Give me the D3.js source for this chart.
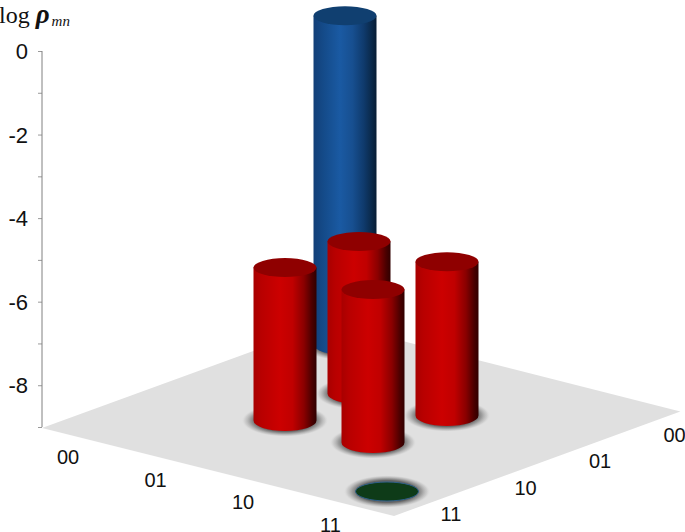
<!DOCTYPE html>
<html><head><meta charset="utf-8">
<script src="https://cdn.jsdelivr.net/npm/d3@7/dist/d3.min.js"></script>
<style>html,body{margin:0;padding:0;background:#fff}svg{display:block}</style>
</head><body><div id="c"></div>
<script>
const rowLabels = ["00","01","10","11"];
const colLabels = ["00","01","10","11"];
const rowIdx = ["00","01","00","01","10","10","11"].slice(0,0);
const barRows = ["00","01","01","10","10","11"];
const barCols = ["00","01","10","01","10","11"];
const barValues = [-1.13,-5.36,-5.34,-5.32,-5.34,-9];
const barKinds = ["blue","red","red","red","red","green"];
const yTicks = [0,-1,-2,-3,-4,-5,-6,-7,-8,-9];
const yLabelled = [0,-2,-4,-6,-8];

const W=685,H=532;
const svg=d3.select("#c").append("svg").attr("width",W).attr("height",H);
const defs=svg.append("defs");

// oblique floor projection built from two linear scales
const ax=d3.scaleLinear().domain([0,4]).range([0,352]);   // along left-to-bottom edge, x
const ay=d3.scaleLinear().domain([0,4]).range([0,88]);    // y
const bx=d3.scaleLinear().domain([0,4]).range([0,296]);   // along bottom-to-right edge, x
const by=d3.scaleLinear().domain([0,4]).range([0,-108]);  // y
const ox=42, oy=428;
const project=(a,b)=>[ox+ax(a)+bx(b),oy+ay(a)+by(b)];
const rowPos=d3.scaleBand().domain(rowLabels).range([0,4]);
const colPos=d3.scaleBand().domain(colLabels).range([4,0]);
const cell=(r,c)=>project(rowPos(r)+0.5,colPos(c)+0.5);
const y=d3.scaleLinear().domain([-9,0]).range([427,51]);
const unit=y(-9)-y(-8);

const RX=31.5,RY=10.5;

function lg(id,stops){
  const g=defs.append("linearGradient").attr("id",id).attr("x1",0).attr("x2",1).attr("y1",0).attr("y2",0);
  stops.forEach(s=>g.append("stop").attr("offset",s[0]).attr("stop-color",s[1]));
}
lg("gRed",[[0,"#a80000"],[0.12,"#b80000"],[0.42,"#cc0000"],[0.62,"#c00000"],[0.8,"#8a0000"],[0.93,"#4a0000"],[1,"#300000"]]);
lg("gBlue",[[0,"#123f78"],[0.15,"#144a88"],[0.42,"#1a5aa3"],[0.62,"#174f90"],[0.8,"#0f3a6c"],[0.93,"#0a2848"],[1,"#071c34"]]);
const sh=defs.append("radialGradient").attr("id","gShadow");
[[0,"#555",1],[0.68,"#666",1],[0.8,"#8c8c8c",0.8],[0.92,"#bbb",0.5],[1,"#e0e0e0",0]].forEach(s=>
  sh.append("stop").attr("offset",s[0]).attr("stop-color",s[1]).attr("stop-opacity",s[2]));

// floor
const floorCorners=[[0,0],[4,0],[4,3.87],[0,3.9]];
svg.append("polygon").attr("fill","#e0e0e0")
  .attr("points",floorCorners.map(p=>project(p[0],p[1]).join(",")).join(" "));

// y axis
const axisColor="#808080";
const axisG=svg.append("g");
axisG.append("line").attr("x1",42).attr("x2",42).attr("y1",y(0)).attr("y2",y(-9))
  .attr("stroke",axisColor).attr("stroke-width",1);
axisG.selectAll("line.t").data(yTicks).join("line").attr("class","t")
  .attr("x1",38).attr("x2",42).attr("y1",d=>y(d)+.5).attr("y2",d=>y(d)+.5)
  .attr("stroke",axisColor).attr("stroke-width",0.8);
axisG.selectAll("text").data(yLabelled).join("text")
  .attr("x",28).attr("y",d=>y(d)+8).attr("text-anchor","end")
  .attr("font-family","Liberation Sans").attr("font-size",22).attr("fill","#111")
  .text(d=>d);

// title
const title=svg.append("text").attr("x",-1).attr("y",23).attr("font-family","Liberation Serif").attr("fill","#111");
title.append("tspan").attr("font-size",24).text("log ");
title.append("tspan").attr("font-size",27).attr("font-style","italic").attr("font-weight","bold").text("ρ");
title.append("tspan").attr("font-size",15).attr("font-style","italic").attr("dx",2).attr("dy",3).text("mn");

// axis category labels
const lab=svg.append("g").attr("font-family","Liberation Sans").attr("font-size",20).attr("fill","#111").attr("text-anchor","middle");
const rowLabelPos=d3.scalePoint().domain(rowLabels).range([0,3]);
lab.selectAll("text.r").data(rowLabels).join("text").attr("class","r")
  .attr("x",d=>68+rowLabelPos(d)*87.5).attr("y",d=>464+rowLabelPos(d)*22.5).text(d=>d);
lab.selectAll("text.c").data(colLabels).join("text").attr("class","c")
  .attr("x",d=>451+(3-rowLabelPos(d))*74.5).attr("y",d=>521-(3-rowLabelPos(d))*26.5).text(d=>d);

// bars
const bars=barValues.map((v,i)=>({r:barRows[i],c:barCols[i],v,k:barKinds[i],p:cell(barRows[i],barCols[i])}));
const order=bars.slice().sort((p,q)=>p.p[1]-q.p[1]);
const gSh=svg.append("g"),gBar=svg.append("g");
gSh.selectAll("ellipse").data(bars).join("ellipse")
  .attr("cx",d=>d.p[0]).attr("cy",d=>d.p[1]).attr("rx",RX*1.38).attr("ry",RY*1.55)
  .attr("fill","url(#gShadow)");
const fills={red:"url(#gRed)",blue:"url(#gBlue)"};
const tops={red:"#8f0000",blue:"#103f70"};
order.forEach(d=>{
  const [cx,cy]=d.p;
  if(d.k==="green"){
    gBar.append("ellipse").attr("cx",cx).attr("cy",cy).attr("rx",RX).attr("ry",RY-1)
      .attr("fill","#0e3b18").attr("stroke","#2f5f8a").attr("stroke-width",1);
    return;
  }
  const h=(d.v+9)*unit, t=cy-h;
  gBar.append("path")
    .attr("d",`M${cx-RX},${t}L${cx-RX},${cy}A${RX},${RY} 0 0 0 ${cx+RX},${cy}L${cx+RX},${t}Z`)
    .attr("fill",fills[d.k]);
  gBar.append("ellipse").attr("cx",cx).attr("cy",t).attr("rx",RX).attr("ry",RY-1)
    .attr("fill",tops[d.k]);
});
</script></body></html>
